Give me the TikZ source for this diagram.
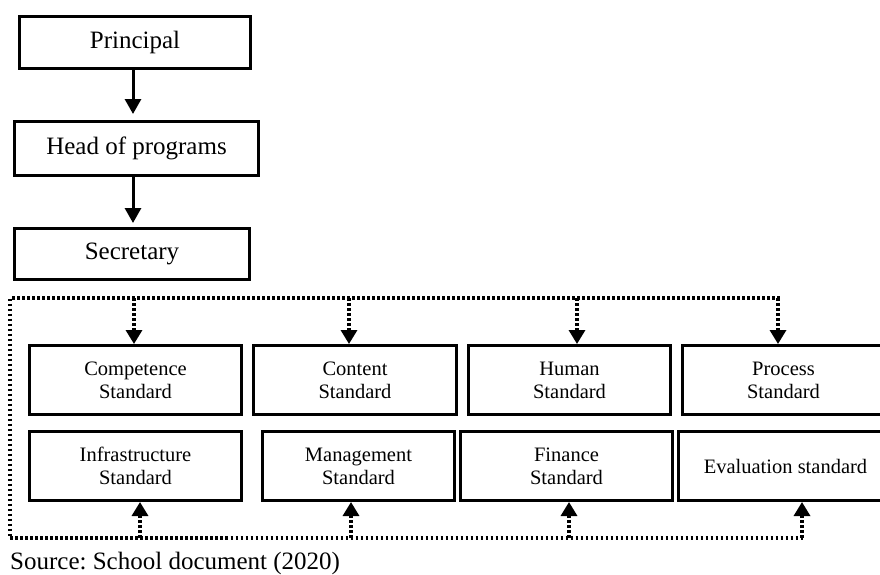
\documentclass[tikz,border=0pt]{standalone}
\usepackage{fontspec}
\setmainfont{Liberation Serif}
\frenchspacing
\usetikzlibrary{arrows.meta,calc}
\begin{document}
\begin{tikzpicture}[x=1pt,y=-1pt,
  topbox/.style={draw=black,line width=3pt,inner sep=0pt,font=\fontsize{25}{28}\selectfont},
  stdbox/.style={draw=black,line width=3pt,inner sep=0pt,align=center,minimum height=69pt,font=\fontsize{20.5}{23}\selectfont},
  solidarr/.style={line width=3pt,-{Triangle[width=16pt,length=15pt]}},
  dotline/.style={line width=3.3pt,dash pattern=on 2.8pt off 2.2pt},
  dotarr/.style={dotline,-{Triangle[width=16pt,length=14pt]}}]
\useasboundingbox[fill=white] (0,0) rectangle (880,574);
% top chain
\node[topbox,minimum width=231pt,minimum height=52pt] (p) at (135,42.5) {Principal};
\node[topbox,minimum width=244pt,minimum height=54pt] (h) at (136.5,148.5) {Head of programs};
\node[topbox,minimum width=235pt,minimum height=51pt] (s) at (132,254) {Secretary};
\draw[solidarr,shorten >=6pt] ([xshift=-2pt]p.south) -- ([xshift=-2pt]p.south |- h.north);
\draw[solidarr,shorten >=4pt] ([xshift=-2pt]h.south -| p.south) -- ([xshift=-2pt]p.south |- s.north);
% standards, top row
\node[stdbox,minimum width=212pt] (c1) at (135.5,380) {Competence\\Standard};
\node[stdbox,minimum width=203pt] (c2) at (355,380) {Content\\Standard};
\node[stdbox,minimum width=202pt] (c3) at (569.5,380) {Human\\Standard};
\node[stdbox,minimum width=202pt] (c4) at (783.5,380) {Process\\Standard};
% standards, bottom row
\node[stdbox,minimum width=212pt] (d1) at (135.5,466) {Infrastructure\\Standard};
\node[stdbox,minimum width=192pt] (d2) at (358.5,466) {Management\\Standard};
\node[stdbox,minimum width=212pt] (d3) at (566.5,466) {Finance\\Standard};
\node[stdbox,minimum width=214pt] (d4) at (785.5,466) {Evaluation standard};
% dotted loop
\coordinate (tl) at (10,298);
\coordinate (bl) at (10,538);
\coordinate (t1) at ([xshift=-1.5pt]c1.north |- tl);
\coordinate (t2) at ([xshift=-6pt]c2.north |- tl);
\coordinate (t3) at ([xshift=7.5pt]c3.north |- tl);
\coordinate (t4) at ([xshift=-5.5pt]c4.north |- tl);
\coordinate (b1) at ([xshift=4.5pt]d1.south |- bl);
\coordinate (b2) at ([xshift=-7.5pt]d2.south |- bl);
\coordinate (b3) at ([xshift=2.5pt]d3.south |- bl);
\coordinate (b4) at ([xshift=16.5pt]d4.south |- bl);
\draw[dotline] ([xshift=1.5pt]t4) -- (tl) -- (bl) -- ([xshift=1.5pt]b4);
\draw[dotarr] (t1) -- (t1 |- c1.north);
\draw[dotarr] (t2) -- (t2 |- c2.north);
\draw[dotarr] (t3) -- (t3 |- c3.north);
\draw[dotarr] (t4) -- (t4 |- c4.north);
\draw[dotarr] (b1) -- (b1 |- d1.south);
\draw[dotarr] (b2) -- (b2 |- d2.south);
\draw[dotarr] (b3) -- (b3 |- d3.south);
\draw[dotarr] (b4) -- (b4 |- d4.south);
% source
\node[anchor=base west,inner sep=0pt,font=\fontsize{25}{28}\selectfont] (src) at (10,569) {Source: School document (2020)};
\end{tikzpicture}
\end{document}
